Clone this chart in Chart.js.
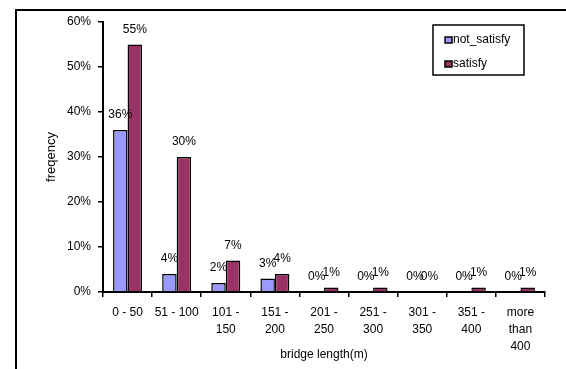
<!DOCTYPE html>
<html>
<head>
<meta charset="utf-8">
<script src="https://cdn.jsdelivr.net/npm/chart.js@4/dist/chart.umd.min.js"></script>
<style>
  html, body { margin: 0; padding: 0; background: #ffffff; }
  #wrap { position: relative; width: 566px; height: 369px; }
</style>
</head>
<body>
<div id="wrap"><canvas id="c" width="566" height="369"></canvas></div>
<script>
// Bridge length classes (multi-line tick labels)
const categories = [
  ['0 - 50'], ['51 - 100'], ['101 -', '150'], ['151 -', '200'], ['201 -', '250'],
  ['251 -', '300'], ['301 -', '350'], ['351 -', '400'], ['more', 'than', '400']
];
// Share of bridges in each class, in percent
const notSatisfy = [36, 4, 2, 3, 0, 0, 0, 0, 0];
const satisfy    = [55, 30, 7, 4, 1, 1, 0, 1, 1];
// Y axis tick range
const yTicks = { min: 0, max: 60, step: 10 };

const FONT = "'Liberation Sans', Arial, sans-serif";

// Outer frame around the whole figure
const framePlugin = {
  id: 'frame',
  beforeDraw(chart) {
    const ctx = chart.ctx;
    ctx.save();
    ctx.strokeStyle = '#000';
    ctx.lineWidth = 2;
    ctx.beginPath();
    ctx.moveTo(16, chart.height + 5);
    ctx.lineTo(16, 10);
    ctx.lineTo(chart.width + 5, 10);
    ctx.stroke();
    ctx.restore();
  }
};

// Percentage labels above each bar
const valueLabels = {
  id: 'valueLabels',
  afterDatasetsDraw(chart) {
    const ctx = chart.ctx;
    ctx.save();
    ctx.font = '12px ' + FONT;
    ctx.fillStyle = '#000';
    ctx.textAlign = 'center';
    ctx.textBaseline = 'middle';
    chart.data.datasets.forEach((ds, i) => {
      const meta = chart.getDatasetMeta(i);
      meta.data.forEach((bar, j) => {
        ctx.fillText(ds.data[j] + '%', bar.x, bar.y - 15);
      });
    });
    ctx.restore();
  }
};

// Boxed legend in the upper right of the plot
const boxLegend = {
  id: 'boxLegend',
  afterDraw(chart, args, opts) {
    const ctx = chart.ctx;
    ctx.save();
    ctx.strokeStyle = '#000';
    ctx.lineWidth = 1.5;
    ctx.strokeRect(opts.x, opts.y, opts.w, opts.h);
    ctx.font = '12px ' + FONT;
    ctx.textBaseline = 'middle';
    ctx.textAlign = 'left';
    chart.data.datasets.forEach((ds, i) => {
      const cy = opts.y + opts.firstRow + i * opts.rowGap;
      ctx.fillStyle = ds.backgroundColor;
      ctx.fillRect(opts.x + 12, cy - 3, 7, 6);
      ctx.lineWidth = 1.5;
      ctx.strokeRect(opts.x + 12, cy - 3, 7, 6);
      ctx.fillStyle = '#000';
      ctx.fillText(ds.label, opts.x + 20, cy);
    });
    ctx.restore();
  }
};

new Chart(document.getElementById('c'), {
  type: 'bar',
  data: {
    labels: categories,
    datasets: [
      { label: 'not_satisfy', data: notSatisfy, backgroundColor: '#9999FF',
        borderColor: '#000', borderWidth: 1.5, borderSkipped: 'bottom' },
      { label: 'satisfy', data: satisfy, backgroundColor: '#993366',
        borderColor: '#000', borderWidth: 1.5, borderSkipped: 'bottom' }
    ]
  },
  options: {
    responsive: false,
    animation: false,
    devicePixelRatio: 1,
    layout: { padding: { left: 38, right: 21, top: 22, bottom: 0 } },
    datasets: { bar: { barPercentage: 1.0, categoryPercentage: 0.59 } },
    plugins: {
      legend: { display: false },
      tooltip: { enabled: false },
      boxLegend: { x: 433, y: 25, w: 91, h: 50, firstRow: 15, rowGap: 24 }
    },
    scales: {
      x: {
        offset: true,
        grid: { display: true, offset: true, drawOnChartArea: false, drawTicks: true,
                tickLength: 5, color: '#000', lineWidth: 1.5 },
        border: { display: true, color: '#000', width: 2 },
        ticks: { color: '#000', font: { family: FONT, size: 12, lineHeight: 1.42 },
                 padding: 7, maxRotation: 0, autoSkip: false },
        title: { display: true, text: 'bridge length(m)', color: '#000',
                 font: { family: FONT, size: 12 }, padding: { top: 0, bottom: 7 } },
        afterFit(scale) { scale.height = 77; }
      },
      y: {
        min: yTicks.min, max: yTicks.max,
        grid: { display: true, drawOnChartArea: false, drawTicks: true,
                tickLength: 5, color: '#000', lineWidth: 1.5 },
        border: { display: true, color: '#000', width: 2 },
        ticks: { stepSize: yTicks.step, color: '#000', padding: 7,
                 font: { family: FONT, size: 12 },
                 callback: v => v + '%' },
        title: { display: true, text: 'freqency', color: '#000',
                 font: { family: FONT, size: 13 }, padding: { top: 6, bottom: 0 } },
        afterFit(scale) { scale.width = 65; }
      }
    }
  },
  plugins: [framePlugin, valueLabels, boxLegend]
});
</script>
</body>
</html>
